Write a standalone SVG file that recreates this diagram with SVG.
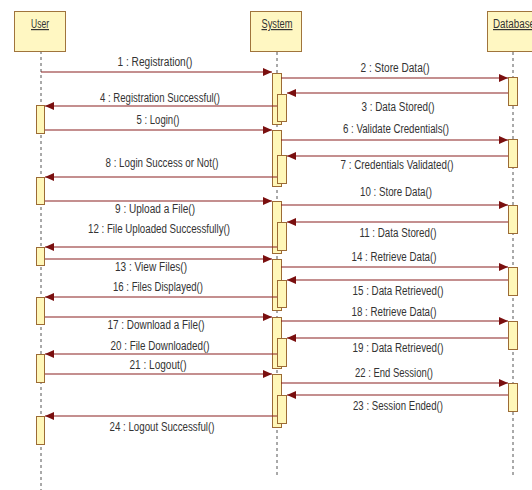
<svg xmlns="http://www.w3.org/2000/svg" width="532" height="490" viewBox="0 0 532 490">
<style>
.hd{fill:#fff7c2;stroke:#a0743c;stroke-width:1}
.act{fill:#fff7b8;stroke:#9c6b35;stroke-width:1}
.life{stroke:#555;stroke-width:1;stroke-dasharray:3,3;fill:none}
.msg{stroke:#8a2020;stroke-width:1.2;fill:none;marker-end:url(#ah)}
.t{font-family:"Liberation Sans",Arial,sans-serif;font-size:12px;fill:#333;text-anchor:middle}
.h{font-family:"Liberation Sans",Arial,sans-serif;font-size:12px;fill:#333;text-decoration:underline}
</style>
<defs>
<marker id="ah" markerWidth="9" markerHeight="8" refX="9" refY="4" orient="auto" markerUnits="userSpaceOnUse">
<path d="M0,0 L9,4 L0,8 Z" fill="#7a0f0f"/>
</marker>
</defs>
<rect width="532" height="490" fill="#ffffff"/>
<g id="lifelines">
<line class="life" x1="41" y1="51" x2="41" y2="490"/>
<line class="life" x1="277" y1="52" x2="277" y2="477"/>
<line class="life" x1="513" y1="52" x2="513" y2="477"/>
</g>
<g id="user">
<rect class="hd" x="14.5" y="11.5" width="51" height="40"/>
<text class="h" x="40" y="28" text-anchor="middle" textLength="18" lengthAdjust="spacingAndGlyphs">User</text>
<rect class="act" x="36.5" y="105.5" width="8" height="28"/>
<rect class="act" x="36.5" y="177.5" width="8" height="27"/>
<rect class="act" x="36.5" y="247.5" width="8" height="18"/>
<rect class="act" x="36.5" y="297.5" width="8" height="27"/>
<rect class="act" x="36.5" y="354.5" width="8" height="28"/>
<rect class="act" x="36.5" y="416.5" width="8" height="28"/>
</g>
<g id="system">
<rect class="hd" x="250.5" y="11.5" width="51" height="40"/>
<text class="h" x="277" y="28" text-anchor="middle" textLength="31" lengthAdjust="spacingAndGlyphs">System</text>
<rect class="act" x="272.5" y="73.5" width="9" height="51"/>
<rect class="act" x="277.5" y="94.5" width="9" height="27"/>
<rect class="act" x="272.5" y="130.5" width="9" height="56"/>
<rect class="act" x="277.5" y="155.5" width="9" height="28"/>
<rect class="act" x="272.5" y="201.5" width="9" height="52"/>
<rect class="act" x="277.5" y="222.5" width="9" height="28"/>
<rect class="act" x="272.5" y="259.5" width="9" height="51"/>
<rect class="act" x="277.5" y="280.5" width="9" height="27"/>
<rect class="act" x="272.5" y="317.5" width="9" height="51"/>
<rect class="act" x="277.5" y="338.5" width="9" height="28"/>
<rect class="act" x="272.5" y="374.5" width="9" height="53"/>
<rect class="act" x="277.5" y="395.5" width="9" height="28"/>
</g>
<g id="database">
<rect class="hd" x="487.5" y="11.5" width="52" height="40"/>
<text class="h" x="493" y="28" textLength="42" lengthAdjust="spacingAndGlyphs">Database</text>
<rect class="act" x="508.5" y="77.5" width="9" height="28"/>
<rect class="act" x="508.5" y="139.5" width="9" height="28"/>
<rect class="act" x="508.5" y="205.5" width="9" height="28"/>
<rect class="act" x="508.5" y="267.5" width="9" height="28"/>
<rect class="act" x="508.5" y="321.5" width="9" height="28"/>
<rect class="act" x="508.5" y="383.5" width="9" height="28"/>
</g>
<g id="connectors">
<line class="msg" x1="41" y1="72" x2="272" y2="72"/>
<line class="msg" x1="281" y1="78" x2="508" y2="78"/>
<line class="msg" x1="508" y1="93" x2="287" y2="93"/>
<line class="msg" x1="277" y1="106" x2="45" y2="106"/>
<line class="msg" x1="45" y1="130" x2="272" y2="130"/>
<line class="msg" x1="281" y1="140" x2="508" y2="140"/>
<line class="msg" x1="508" y1="156" x2="287" y2="156"/>
<line class="msg" x1="277" y1="177" x2="45" y2="177"/>
<line class="msg" x1="45" y1="201" x2="272" y2="201"/>
<line class="msg" x1="281" y1="205" x2="508" y2="205"/>
<line class="msg" x1="508" y1="222" x2="287" y2="222"/>
<line class="msg" x1="277" y1="247" x2="45" y2="247"/>
<line class="msg" x1="45" y1="259" x2="272" y2="259"/>
<line class="msg" x1="281" y1="267" x2="508" y2="267"/>
<line class="msg" x1="508" y1="280" x2="287" y2="280"/>
<line class="msg" x1="277" y1="297" x2="45" y2="297"/>
<line class="msg" x1="45" y1="317" x2="272" y2="317"/>
<line class="msg" x1="281" y1="321" x2="508" y2="321"/>
<line class="msg" x1="508" y1="338" x2="287" y2="338"/>
<line class="msg" x1="277" y1="354" x2="45" y2="354"/>
<line class="msg" x1="45" y1="374" x2="272" y2="374"/>
<line class="msg" x1="281" y1="383" x2="508" y2="383"/>
<line class="msg" x1="508" y1="395" x2="287" y2="395"/>
<line class="msg" x1="277" y1="416" x2="45" y2="416"/>
</g>
<g id="labels">
<text class="t" x="155" y="66" textLength="75" lengthAdjust="spacingAndGlyphs">1 : Registration()</text>
<text class="t" x="395" y="72" textLength="69" lengthAdjust="spacingAndGlyphs">2 : Store Data()</text>
<text class="t" x="398" y="111" textLength="73" lengthAdjust="spacingAndGlyphs">3 : Data Stored()</text>
<text class="t" x="160" y="102" textLength="120" lengthAdjust="spacingAndGlyphs">4 : Registration Successful()</text>
<text class="t" x="158" y="124" textLength="43" lengthAdjust="spacingAndGlyphs">5 : Login()</text>
<text class="t" x="396" y="133" textLength="106" lengthAdjust="spacingAndGlyphs">6 : Validate Credentials()</text>
<text class="t" x="397" y="169" textLength="113" lengthAdjust="spacingAndGlyphs">7 : Credentials Validated()</text>
<text class="t" x="162" y="167" textLength="113" lengthAdjust="spacingAndGlyphs">8 : Login Success or Not()</text>
<text class="t" x="155" y="213" textLength="80" lengthAdjust="spacingAndGlyphs">9 : Upload a File()</text>
<text class="t" x="396" y="196" textLength="72" lengthAdjust="spacingAndGlyphs">10 : Store Data()</text>
<text class="t" x="398" y="237" textLength="77" lengthAdjust="spacingAndGlyphs">11 : Data Stored()</text>
<text class="t" x="159" y="233" textLength="142" lengthAdjust="spacingAndGlyphs">12 : File Uploaded Successfully()</text>
<text class="t" x="151" y="271" textLength="72" lengthAdjust="spacingAndGlyphs">13 : View Files()</text>
<text class="t" x="394" y="261" textLength="85" lengthAdjust="spacingAndGlyphs">14 : Retrieve Data()</text>
<text class="t" x="398" y="295" textLength="91" lengthAdjust="spacingAndGlyphs">15 : Data Retrieved()</text>
<text class="t" x="158" y="291" textLength="90" lengthAdjust="spacingAndGlyphs">16 : Files Displayed()</text>
<text class="t" x="156" y="329" textLength="97" lengthAdjust="spacingAndGlyphs">17 : Download a File()</text>
<text class="t" x="394" y="316" textLength="85" lengthAdjust="spacingAndGlyphs">18 : Retrieve Data()</text>
<text class="t" x="398" y="352" textLength="91" lengthAdjust="spacingAndGlyphs">19 : Data Retrieved()</text>
<text class="t" x="160" y="350" textLength="99" lengthAdjust="spacingAndGlyphs">20 : File Downloaded()</text>
<text class="t" x="158" y="369" textLength="57" lengthAdjust="spacingAndGlyphs">21 : Logout()</text>
<text class="t" x="394" y="377" textLength="78" lengthAdjust="spacingAndGlyphs">22 : End Session()</text>
<text class="t" x="398" y="410" textLength="90" lengthAdjust="spacingAndGlyphs">23 : Session Ended()</text>
<text class="t" x="162" y="431" textLength="105" lengthAdjust="spacingAndGlyphs">24 : Logout Successful()</text>
</g>
</svg>
